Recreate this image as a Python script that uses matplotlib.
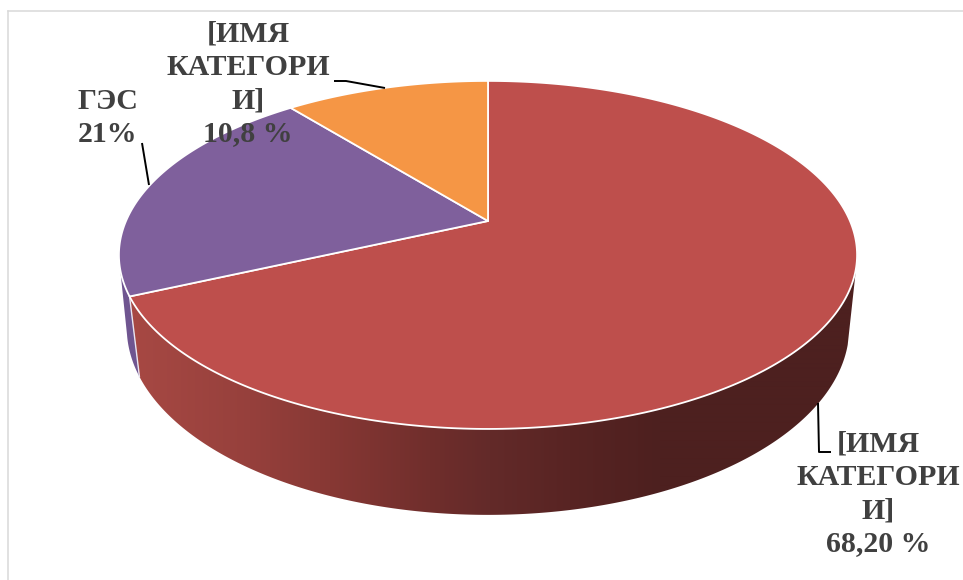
import numpy as np
import matplotlib
matplotlib.use("Agg")
import matplotlib.pyplot as plt
from matplotlib.patches import Polygon

# Share of generation by source
categories = ["[ИМЯ\nКАТЕГОРИ\nИ]", "ГЭС", "[ИМЯ\nКАТЕГОРИ\nИ]"]
shares = [68.2, 21.0, 10.8]
value_labels = ["68,20 %", "21%", "10,8 %"]
top_colors = ["#BE4F4C", "#7F609C", "#F59645"]

W, H = 963, 580
fig = plt.figure(figsize=(W / 100, H / 100), dpi=100)
ax = fig.add_axes([0, 0, 1, 1])
ax.axis("off")

CX = 488.0


def disc(t_deg, hub_y, R, a, k):
    """Perspective projection of a point on a horizontal circle."""
    t = np.radians(t_deg)
    d = 1 + k * np.sin(t)
    return CX + R * np.cos(t) / d, hub_y - a * np.sin(t) / d


def top_rim(t):
    return disc(t, 221.0, 362.0, 167.4, 0.195)


def bottom_rim(t):
    return disc(t, 295.6, 356.0, 182.0, 0.17)


# Slice boundaries: clockwise from twelve o'clock
fractions = np.array(shares) / sum(shares)
edges = 90 - 360 * np.concatenate([[0], np.cumsum(fractions)])

# Horizontal shading stops of the red wall
shade_x = [139, 250, 330, 430, 490, 570, 660, 860]
shade_r = [0xA6, 0x96, 0x87, 0x70, 0x63, 0x58, 0x4D, 0x4D]
shade_g = [0x48, 0x40, 0x38, 0x2E, 0x2A, 0x24, 0x20, 0x20]
shade_b = [0x43, 0x3C, 0x34, 0x2C, 0x29, 0x23, 0x1F, 0x1F]


def wall_outline(t_start, t_stop):
    ts = np.linspace(t_start, t_stop, 300)
    xt, yt = top_rim(ts)
    xb, yb = bottom_rim(ts)
    return np.column_stack([np.r_[xt, xb[::-1]], np.r_[yt, yb[::-1]]])


# Purple sliver of the wall on the far left
ax.add_patch(Polygon(wall_outline(edges[1], -168), closed=True,
                     facecolor="#6F5590", edgecolor="none", zorder=1))

# Red wall: a horizontal gradient clipped to the wall outline
columns = np.arange(100, 880)
gradient = np.stack([np.interp(columns, shade_x, shade_r),
                     np.interp(columns, shade_x, shade_g),
                     np.interp(columns, shade_x, shade_b)], axis=-1)[None, :, :] / 255
image = ax.imshow(gradient, extent=(100, 880, 530, 240), aspect="auto",
                  interpolation="bilinear", zorder=1.5)
red_wall = Polygon(wall_outline(-15, edges[1]), closed=True,
                   facecolor="none", edgecolor="none", transform=ax.transData)
ax.add_patch(red_wall)
image.set_clip_path(red_wall)

ax.set_xlim(0, W)
ax.set_ylim(H, 0)

# Light seam where the red wall meets the purple one
sx = [top_rim(edges[1])[0], bottom_rim(edges[1])[0]]
sy = [top_rim(edges[1])[1], bottom_rim(edges[1])[1]]
ax.plot(sx, sy, color="#E8E4F0", lw=1.0, zorder=2)

# Top face of each slice
hub = (CX, 221.0)
for i, color in enumerate(top_colors):
    ts = np.linspace(edges[i], edges[i + 1], 300)
    xs, ys = top_rim(ts)
    ax.fill(np.r_[hub[0], xs], np.r_[hub[1], ys], facecolor=color,
            edgecolor="white", lw=1.3, joinstyle="round", zorder=3)

# Callouts
label_style = dict(family="Liberation Serif", weight="bold", fontsize=21.5,
                   color="#404040", ha="center", va="center",
                   linespacing=1.29, zorder=6)
ax.text(878, 494, f"{categories[0]}\n{value_labels[0]}", **label_style)
ax.text(107.5, 118, f"{categories[1]}\n{value_labels[1]}", **label_style)
ax.text(248, 84, f"{categories[2]}\n{value_labels[2]}", **label_style)

leader = dict(color="black", lw=1.4, zorder=5, solid_capstyle="butt")
ax.plot([818, 819, 831], [403, 452, 452], **leader)
ax.plot([142, 149], [143, 185], **leader)
ax.plot([334, 346, 385], [81, 81, 88], **leader)

# Chart frame
ax.plot([8, 8], [H, 10.5], color="#D9D9D9", lw=1.1, zorder=0)
ax.plot([8, W], [10.5, 10.5], color="#D9D9D9", lw=1.1, zorder=0)

fig.savefig("out.png", dpi=100, facecolor="white")
